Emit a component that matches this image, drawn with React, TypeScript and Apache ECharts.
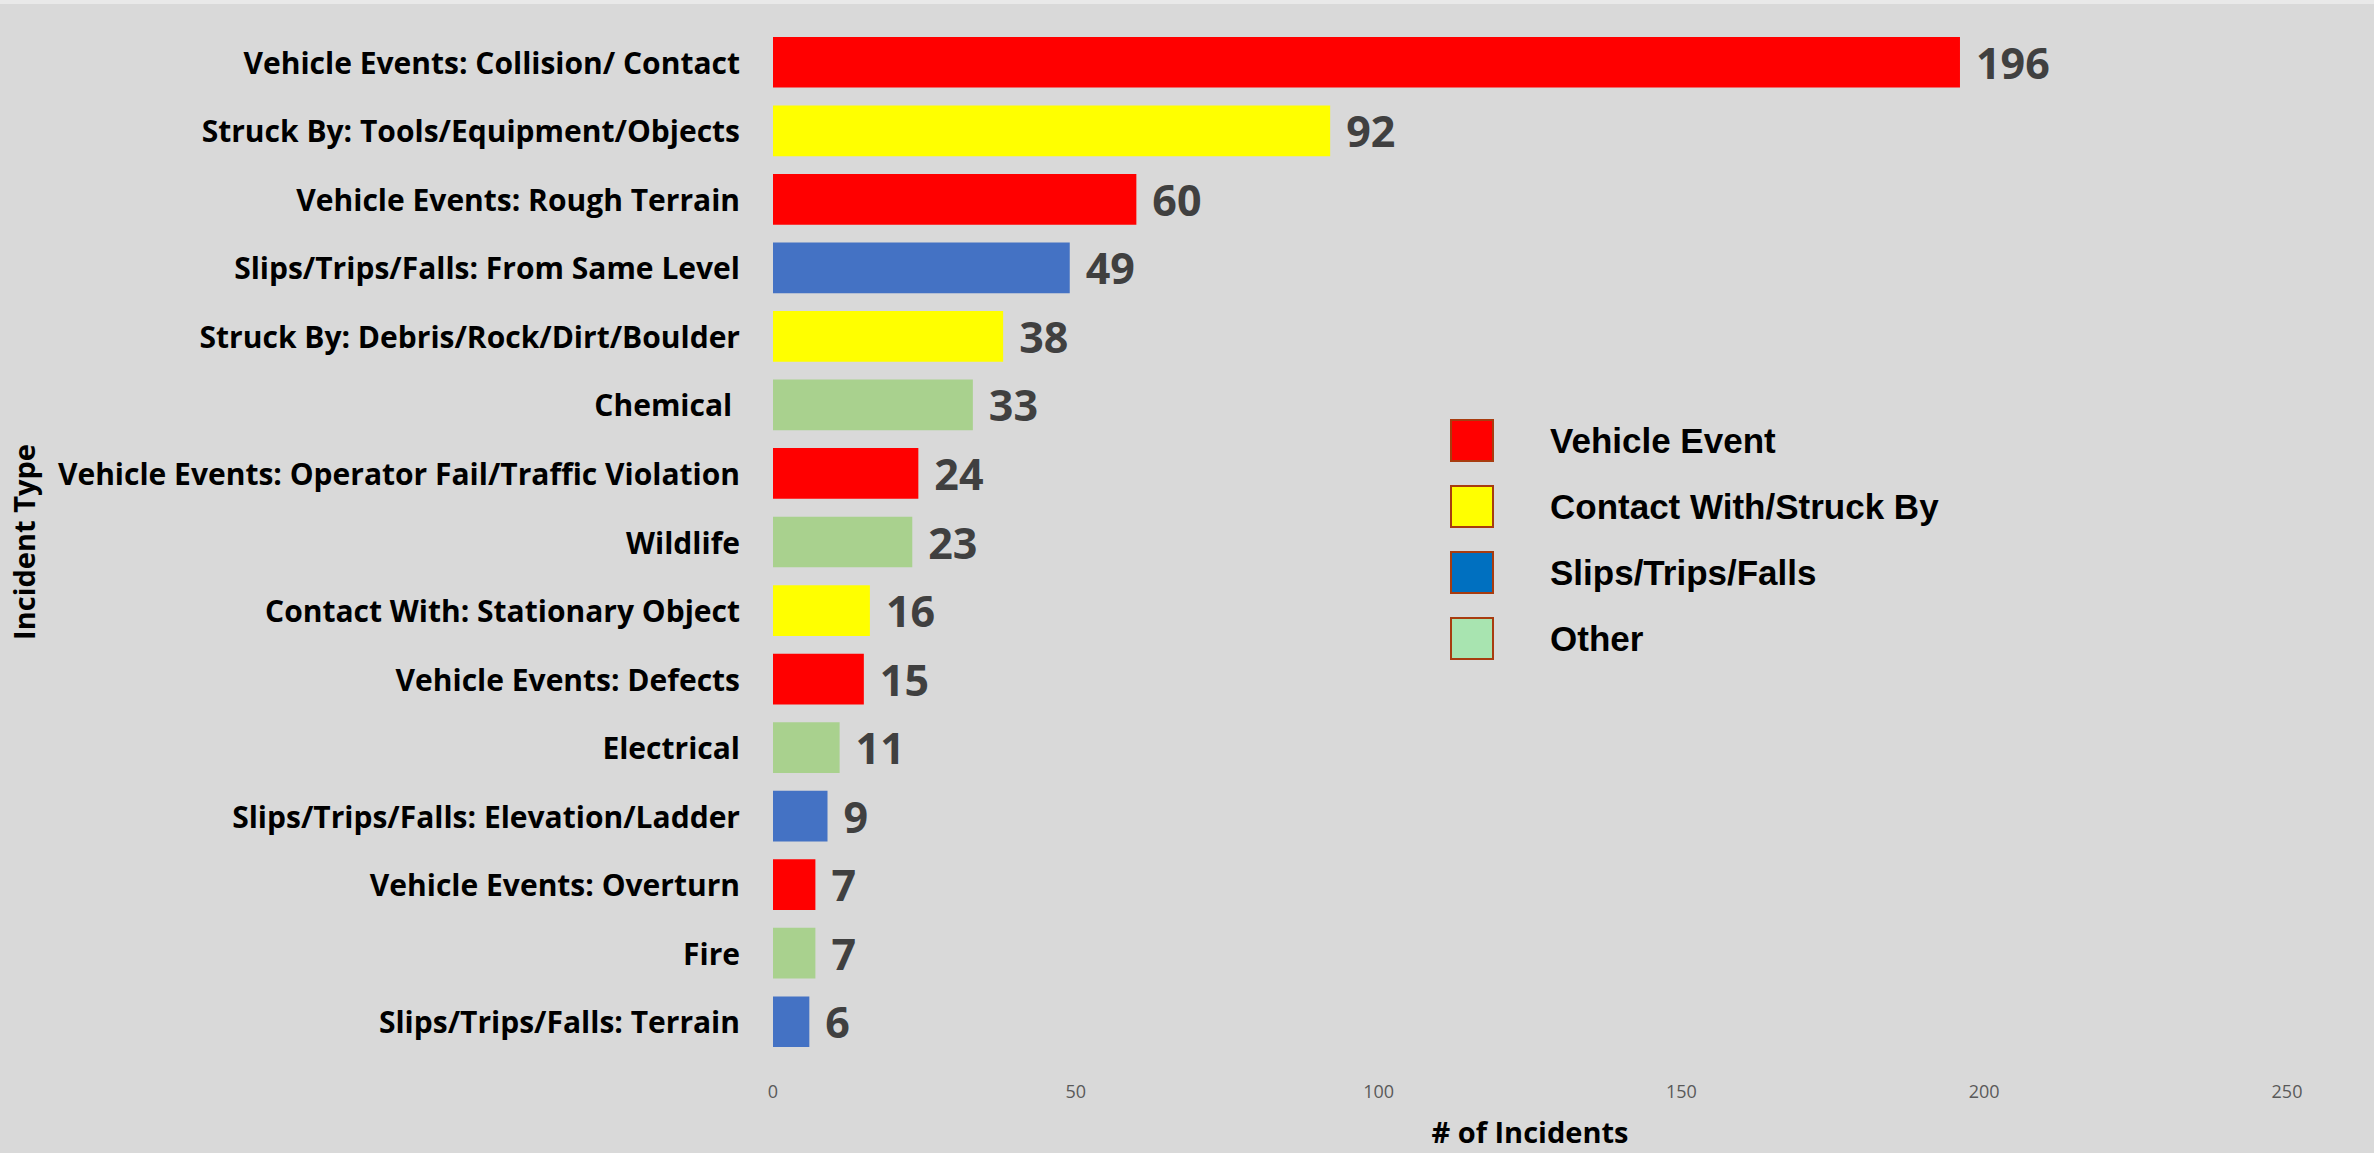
import React, { useEffect, useRef } from "react";
import * as echarts from "echarts";

const categories = [
  "Vehicle Events: Collision/ Contact",
  "Struck By: Tools/Equipment/Objects",
  "Vehicle Events: Rough Terrain",
  "Slips/Trips/Falls: From Same Level",
  "Struck By: Debris/Rock/Dirt/Boulder",
  "Chemical ",
  "Vehicle Events: Operator Fail/Traffic Violation",
  "Wildlife",
  "Contact With: Stationary Object",
  "Vehicle Events: Defects",
  "Electrical",
  "Slips/Trips/Falls: Elevation/Ladder",
  "Vehicle Events: Overturn",
  "Fire",
  "Slips/Trips/Falls: Terrain",
];
const values = [196, 92, 60, 49, 38, 33, 24, 23, 16, 15, 11, 9, 7, 7, 6];
const groupOf = [0, 1, 0, 2, 1, 3, 0, 3, 1, 0, 3, 2, 0, 3, 2];
const groupNames = ["Vehicle Event", "Contact With/Struck By", "Slips/Trips/Falls", "Other"];
const barColors = ["#FF0000", "#FFFF00", "#4472C4", "#A9D18E"];
const legendColors = ["#FF0000", "#FFFF00", "#0070C0", "#A8E4B0"];
const xTicks = { min: 0, max: 250, interval: 50 };

export default function App() {
  const ref = useRef<HTMLDivElement>(null);
  useEffect(() => {
    document.body.style.margin = "0";
    const chart = echarts.init(ref.current!, undefined, { renderer: "svg" });
    const series = groupNames.map((name, g) => ({
      name,
      type: "bar",
      stack: "total",
      barCategoryGap: "26%",
      itemStyle: { color: barColors[g] },
      label: {
        show: true,
        position: "right",
        distance: 16,
        color: "#404040",
        fontFamily: "Open Sans",
        fontWeight: "bold",
        fontSize: 43,
      },
      data: values.map((v, i) => (groupOf[i] === g ? v : "-")),
    }));
    chart.setOption({
      animation: false,
      backgroundColor: "#D9D9D9",
      graphic: [
        { type: "rect", left: 0, top: 0, shape: { width: 2374, height: 4 }, style: { fill: "#E9E9E9" } },
      ],
      legend: {
        orient: "vertical",
        left: 1445,
        top: 414,
        itemWidth: 42,
        itemHeight: 41,
        itemGap: 23,
        icon: "rect",
        selectedMode: false,
        textStyle: {
          fontFamily: "Liberation Sans",
          fontWeight: "bold",
          fontSize: 35,
          color: "#000000",
          lineHeight: 42,
          padding: [0, 0, 0, 52],
        },
        data: groupNames.map((name, g) => ({
          name,
          icon: "rect",
          itemStyle: { color: legendColors[g], borderColor: "#A83C0F", borderWidth: 2 },
        })),
      },
      grid: { left: 773, right: 87, top: 28, bottom: 97, containLabel: false },
      xAxis: {
        type: "value",
        min: xTicks.min,
        max: xTicks.max,
        interval: xTicks.interval,
        name: "# of Incidents",
        nameLocation: "middle",
        nameGap: 61,
        nameTextStyle: { fontFamily: "Open Sans", fontWeight: "bold", fontSize: 29, color: "#000000" },
        axisLine: { show: false },
        axisTick: { show: false },
        splitLine: { show: false },
        axisLabel: { margin: 26, fontFamily: "Open Sans", fontSize: 18, color: "#595959" },
      },
      yAxis: {
        type: "category",
        inverse: true,
        data: categories,
        name: "Incident Type",
        nameLocation: "middle",
        nameGap: 735,
        nameTextStyle: { fontFamily: "Open Sans", fontWeight: "bold", fontSize: 29, color: "#000000" },
        axisLine: { show: false },
        axisTick: { show: false },
        axisLabel: { margin: 33, fontFamily: "Open Sans", fontWeight: "bold", fontSize: 30, color: "#000000" },
      },
      series,
    });
    return () => chart.dispose();
  }, []);
  return <div ref={ref} style={{ width: 2374, height: 1153 }} />;
}
